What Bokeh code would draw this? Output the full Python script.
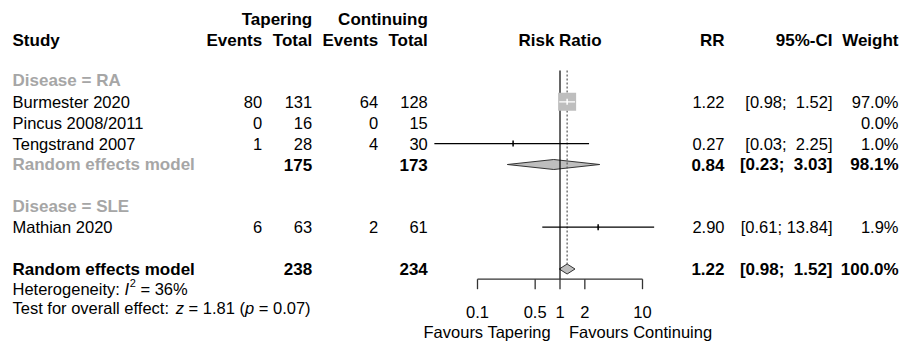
import math
from bokeh.plotting import figure
from bokeh.models import Range1d, LogScale
from bokeh.core.properties import value
from bokeh.embed import file_html
from bokeh.resources import INLINE

# ---------------- data ----------------
studies = ["Burmester 2020", "Pincus 2008/2011", "Tengstrand 2007", "Mathian 2020"]
disease = ["RA", "RA", "RA", "SLE"]
tap_events = [80, 0, 1, 6]
tap_total = [131, 16, 28, 63]
cont_events = [64, 0, 4, 2]
cont_total = [128, 15, 30, 61]
rr = [1.22, float("nan"), 0.27, 2.90]
ci_lo = [0.98, float("nan"), 0.03, 0.61]
ci_hi = [1.52, float("nan"), 2.25, 13.84]
weight = [97.0, 0.0, 1.0, 1.9]

sub_names = ["RA", "SLE"]
sub_tap_total = [175]
sub_cont_total = [173]
sub_rr = [0.84]
sub_lo = [0.23]
sub_hi = [3.03]
sub_weight = [98.1]

overall_tap_total = 238
overall_cont_total = 234
overall_rr = 1.22
overall_lo = 0.98
overall_hi = 1.52
overall_weight = 100.0

i2 = 36
z_val = 1.81
p_val = 0.07

ticks = [0.1, 0.5, 1, 2, 10]
tick_labels = ["0.1", "0.5", "1", "2", "10"]
label_left = "Favours Tapering"
label_right = "Favours Continuing"

# ---------------- layout ----------------
FONT = "Liberation Sans"
REG = "16.5px"
BOLD = "17px"
GRAY = "#A6A6A6"
W, H = 900, 341
REF_PX, DEC_PX = 559.5, 82.5
Y0, DY = 101.3, 20.9
HEAD1_Y, HEAD2_Y = 18.5, 40.0
AXIS_Y, TICK_LEN = 278.7, 10
TICKLAB_Y, FAV_Y = 311.7, 331.7
HET_Y, TEST_Y = 288.5, 307.5
TOP_Y = 70
X_LEFT = 12
X_TE, X_TT, X_CE, X_CT = 261.7, 311.7, 377.7, 427.3
X_RR, X_CI, X_W = 724, 832, 898

study_rows = [0, 1, 2, 6]
sub_label_rows = [-1, 5]
sub_rows = [3]
overall_row = 8
NB = "\u00a0"


def ry(r):
    return Y0 + DY * r


p = figure(width=W, height=H, output_backend="svg", toolbar_location=None,
           x_range=Range1d(0, W), y_range=Range1d(H, 0),
           x_axis_location=None, y_axis_location=None, min_border=0)
p.outline_line_color = None
p.grid.visible = False
p.background_fill_color = "white"
p.border_fill_color = "white"
p.extra_x_ranges = {"rr": Range1d(10 ** ((0 - REF_PX) / DEC_PX), 10 ** ((W - REF_PX) / DEC_PX))}
p.extra_x_scales = {"rr": LogScale()}


def txt(x, y, t, align="left", size=REG, bold=False, italic=False, color="black",
        rng="default", xoff=0, yoff=0):
    style = "bold" if bold else ("italic" if italic else "normal")
    p.text(x=x, y=y, text=t, text_align=align, text_baseline="middle",
           text_font=value(FONT), text_font_size=size, text_font_style=style,
           text_color=color, x_range_name=rng, x_offset=xoff, y_offset=yoff)


def fmt_ci(lo, hi, width):
    s = f"{hi:.2f}".rjust(width).replace(" ", NB)
    return f"[{lo:.2f}; {s}]"


# headers
txt([X_TT, X_CT], [HEAD1_Y] * 2, ["Tapering", "Continuing"], align="right", size=BOLD, bold=True)
txt([X_LEFT], [HEAD2_Y], ["Study"], size=BOLD, bold=True)
txt([X_TE, X_TT, X_CE, X_CT, X_RR, X_CI, X_W], [HEAD2_Y] * 7,
    ["Events", "Total", "Events", "Total", "RR", "95%-CI", "Weight"], align="right", size=BOLD, bold=True)
txt([1], [HEAD2_Y], ["Risk Ratio"], align="center", size=BOLD, bold=True, rng="rr")

# subgroup labels
txt([X_LEFT] * 2, [ry(r) for r in sub_label_rows], [f"Disease = {d}" for d in sub_names],
    size=BOLD, bold=True, color=GRAY)

# study rows
ys = [ry(r) for r in study_rows]
txt([X_LEFT] * len(studies), ys, studies)
txt([X_TE] * 4, ys, [str(v) for v in tap_events], align="right")
txt([X_TT] * 4, ys, [str(v) for v in tap_total], align="right")
txt([X_CE] * 4, ys, [str(v) for v in cont_events], align="right")
txt([X_CT] * 4, ys, [str(v) for v in cont_total], align="right")
all_hi = ci_hi + sub_hi + [overall_hi]
wd = max(len(f"{h:.2f}") for h in all_hi if not math.isnan(h))
txt([X_RR] * 4, ys, ["" if math.isnan(v) else f"{v:.2f}" for v in rr], align="right")
txt([X_CI] * 4, ys, ["" if math.isnan(a) else fmt_ci(a, b, wd) for a, b in zip(ci_lo, ci_hi)], align="right")
txt([X_W] * 4, ys, [f"{w:.1f}%" for w in weight], align="right")

# subgroup summary rows
sys_ = [ry(r) for r in sub_rows]
txt([X_LEFT], sys_, ["Random effects model"], size=BOLD, bold=True, color=GRAY)
txt([X_TT], sys_, [str(v) for v in sub_tap_total], align="right", size=BOLD, bold=True)
txt([X_CT], sys_, [str(v) for v in sub_cont_total], align="right", size=BOLD, bold=True)
txt([X_RR], sys_, [f"{v:.2f}" for v in sub_rr], align="right", size=BOLD, bold=True)
txt([X_CI], sys_, [fmt_ci(a, b, wd) for a, b in zip(sub_lo, sub_hi)], align="right", size=BOLD, bold=True)
txt([X_W], sys_, [f"{w:.1f}%" for w in sub_weight], align="right", size=BOLD, bold=True)

# overall row
oy = ry(overall_row)
txt([X_LEFT], [oy], ["Random effects model"], size=BOLD, bold=True)
txt([X_TT, X_CT], [oy] * 2, [str(overall_tap_total), str(overall_cont_total)], align="right", size=BOLD, bold=True)
txt([X_RR], [oy], [f"{overall_rr:.2f}"], align="right", size=BOLD, bold=True)
txt([X_CI], [oy], [fmt_ci(overall_lo, overall_hi, wd)], align="right", size=BOLD, bold=True)
txt([X_W], [oy], [f"{overall_weight:.1f}%"], align="right", size=BOLD, bold=True)

# heterogeneity / test text (pieces laid out with Arial metrics)
CW = {" ": 278, NB: 278, ":": 278, "=": 584, "%": 889, "(": 333, ")": 333, ".": 278, "I": 278,
      "T": 611, "H": 722, "z": 500, "p": 556}
for c in "0123456789":
    CW[c] = 556
for c, w in zip("abcdefghijklmnopqrstuvwxy", [556, 556, 500, 556, 556, 278, 556, 556, 222, 222, 500, 222,
                                               833, 556, 556, 556, 556, 333, 500, 278, 556, 500, 722, 500, 500]):
    CW[c] = w


def tw(s, px=16.5):
    return sum(CW.get(c, 556) for c in s) * px / 1000.0


s1 = "Heterogeneity:" + NB
x = X_LEFT
txt([x], [HET_Y], [s1]); x += tw(s1)
txt([x], [HET_Y], ["I"], italic=True); x += tw("I") + 0.8
txt([x], [HET_Y], ["2"], size="11px", yoff=-6); x += tw("2", 11)
txt([x], [HET_Y], [f"{NB}={NB}{i2}%"])

pieces = [("Test for overall effect:" + NB, False), ("z", True), (f"{NB}={NB}{z_val:.2f}{NB}(", False),
          ("p", True), (f"{NB}={NB}{p_val:.2f})", False)]
x = X_LEFT
for s, it in pieces:
    txt([x], [TEST_Y], [s], italic=it)
    x += tw(s)

# ---------------- forest graphics ----------------
# diamonds
dxs, dys = [], []
for r, est, a, b in zip(sub_rows + [overall_row], sub_rr + [overall_rr], sub_lo + [overall_lo], sub_hi + [overall_hi]):
    yy = ry(r)
    dxs.append([a, est, b, est])
    dys.append([yy, yy - 5, yy, yy + 5])
p.patches(xs=dxs, ys=dys, x_range_name="rr", fill_color="#BEBEBE", line_color="#333333", line_width=1)

# reference lines
p.segment(x0=[1], x1=[1], y0=[TOP_Y], y1=[AXIS_Y], x_range_name="rr", line_color="black", line_width=1.2)
p.segment(x0=[overall_rr], x1=[overall_rr], y0=[TOP_Y], y1=[ry(overall_row) - 5], x_range_name="rr",
          line_color="#555555", line_width=1.2, line_dash="2 2")

# study CI lines, squares
valid = [i for i in range(len(studies)) if not math.isnan(rr[i])]
wmax = max(weight)
sq = [18 * math.sqrt(weight[i] / wmax) for i in valid]
ci_colors = ["white" if s > 12 else "black" for s in sq]
p.rect(x=[rr[i] for i in valid], y=[ys[i] for i in valid], width=sq, height=sq,
       width_units="screen", height_units="screen", x_range_name="rr",
       fill_color="#BEBEBE", line_color=None)
p.segment(x0=[ci_lo[i] for i in valid], x1=[ci_hi[i] for i in valid],
          y0=[ys[i] for i in valid], y1=[ys[i] for i in valid],
          x_range_name="rr", line_color=ci_colors, line_width=1.2)
p.segment(x0=[rr[i] for i in valid], x1=[rr[i] for i in valid],
          y0=[ys[i] - 3 for i in valid], y1=[ys[i] + 3 for i in valid],
          x_range_name="rr", line_color=ci_colors, line_width=1.5)

# axis
p.segment(x0=[min(ticks)], x1=[max(ticks)], y0=[AXIS_Y], y1=[AXIS_Y], x_range_name="rr",
          line_color="#333333", line_width=1.3)
p.segment(x0=ticks, x1=ticks, y0=[AXIS_Y] * len(ticks), y1=[AXIS_Y + TICK_LEN] * len(ticks),
          x_range_name="rr", line_color="#333333", line_width=1.3)
txt(ticks, [TICKLAB_Y] * len(ticks), tick_labels, align="center", rng="rr")
txt([1], [FAV_Y], [label_left], align="right", rng="rr", xoff=-9)
txt([1], [FAV_Y], [label_right], align="left", rng="rr", xoff=9)

open("out.html", "w").write(file_html(p, INLINE))
